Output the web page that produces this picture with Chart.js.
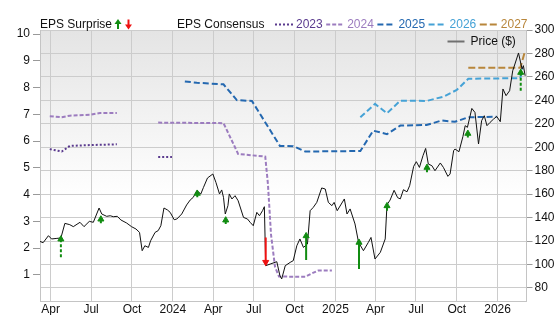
<!DOCTYPE html>
<html>
<head>
<meta charset="utf-8">
<script src="https://cdn.jsdelivr.net/npm/chart.js@4.4.1/dist/chart.umd.min.js"></script>
<style>
  html, body { margin: 0; padding: 0; background: #fff; }
</style>
</head>
<body>
<canvas id="chart" width="556" height="315"></canvas>
<script>
// x axis ticks
var xTickDates = ["2023-04-01", "2023-07-01", "2023-10-01", "2024-01-01", "2024-04-01", "2024-07-01",
  "2024-10-01", "2025-01-01", "2025-04-01", "2025-07-01", "2025-10-01", "2026-01-01"];
var xTickLabels = ["Apr", "Jul", "Oct", "2024", "Apr", "Jul", "Oct", "2025", "Apr", "Jul", "Oct", "2026"];
var epsTicks = [1, 2, 3, 4, 5, 6, 7, 8, 9, 10];
var priceTicks = [80, 100, 120, 140, 160, 180, 200, 220, 240, 260, 280, 300];

// Price ($)
var priceDates = [
  "2023-03-08", "2023-03-15", "2023-03-27", "2023-04-03", "2023-04-15", "2023-04-24", "2023-05-03", "2023-05-14",
  "2023-05-22", "2023-06-06", "2023-06-15", "2023-06-27", "2023-07-06", "2023-07-19", "2023-07-25", "2023-08-05",
  "2023-08-13", "2023-08-20", "2023-08-29", "2023-09-06", "2023-09-19", "2023-09-30", "2023-10-10", "2023-10-18",
  "2023-10-24", "2023-10-30", "2023-11-07", "2023-11-12", "2023-11-22", "2023-11-29", "2023-12-05", "2023-12-12",
  "2023-12-20", "2023-12-26", "2024-01-04", "2024-01-10", "2024-01-21", "2024-02-01", "2024-02-09", "2024-02-16",
  "2024-02-24", "2024-03-04", "2024-03-10", "2024-03-19", "2024-03-31", "2024-04-07", "2024-04-15", "2024-04-20",
  "2024-04-24", "2024-04-28", "2024-05-04", "2024-05-07", "2024-05-13", "2024-05-20", "2024-05-27", "2024-06-08",
  "2024-06-17", "2024-06-23", "2024-06-30", "2024-07-08", "2024-07-14", "2024-07-21", "2024-07-25", "2024-07-28",
  "2024-08-07", "2024-08-22", "2024-08-29", "2024-09-02", "2024-09-10", "2024-09-21", "2024-09-28", "2024-10-06",
  "2024-10-13", "2024-10-21", "2024-10-30", "2024-11-05", "2024-11-12", "2024-11-20", "2024-12-01", "2024-12-09",
  "2024-12-16", "2024-12-24", "2024-12-29", "2025-01-05", "2025-01-21", "2025-01-27", "2025-02-03", "2025-02-14",
  "2025-02-22", "2025-03-05", "2025-03-16", "2025-03-22", "2025-03-31", "2025-04-12", "2025-04-23", "2025-04-27",
  "2025-05-04", "2025-05-13", "2025-05-21", "2025-05-27", "2025-06-03", "2025-06-11", "2025-06-17", "2025-06-26",
  "2025-07-02", "2025-07-09", "2025-07-17", "2025-07-23", "2025-07-29", "2025-08-06", "2025-08-13", "2025-08-25",
  "2025-09-01", "2025-09-11", "2025-09-16", "2025-09-24", "2025-09-27", "2025-10-06", "2025-10-15", "2025-10-20",
  "2025-10-25", "2025-11-04", "2025-11-11", "2025-11-19", "2025-11-26", "2025-12-02", "2025-12-08", "2025-12-15",
  "2025-12-23", "2025-12-30", "2026-01-07", "2026-01-13", "2026-01-20", "2026-01-28", "2026-02-04", "2026-02-09",
  "2026-02-17", "2026-02-25", "2026-02-28", "2026-03-04"];
var priceValues = [
  119.7, 118.6, 124.6, 121.8, 122.3, 122.6, 135.1, 134.0,
  132.3, 136.0, 132.3, 136.8, 136.0, 148.2, 143.1, 141.1,
  141.6, 140.8, 141.1, 138.0, 135.4, 132.3, 130.3, 127.4,
  111.8, 116.0, 114.6, 120.3, 127.4, 128.9, 133.1, 148.2,
  146.5, 144.5, 138.2, 138.8, 143.1, 150.8, 155.0, 157.3,
  163.0, 160.2, 165.8, 173.8, 177.2, 170.0, 160.2, 163.6,
  157.3, 143.1, 150.2, 160.2, 155.9, 158.7, 154.4, 140.2,
  138.8, 136.0, 133.1, 144.5, 141.6, 146.0, 149.3, 99.0,
  100.4, 102.4, 90.5, 87.7, 99.0, 101.8, 103.3, 116.0,
  121.8, 114.6, 117.5, 145.9, 148.7, 153.0, 165.3, 164.4,
  153.0, 150.2, 153.0, 145.9, 155.9, 143.1, 147.4, 134.6,
  118.9, 111.8, 118.9, 123.1, 104.7, 110.4, 121.8, 151.0,
  155.0, 163.3, 157.0, 156.0, 163.8, 162.0, 167.2, 183.7,
  187.7, 182.8, 192.8, 199.0, 185.7, 184.3, 180.0, 186.6,
  182.8, 175.2, 177.2, 197.1, 198.5, 196.2, 209.3, 218.4,
  217.0, 233.1, 229.7, 202.8, 222.7, 226.9, 218.4, 221.2,
  224.1, 226.3, 221.8, 249.7, 244.0, 248.2, 265.3, 271.0,
  280.4, 266.7, 269.6, 261.0];

// EPS consensus by fiscal year (null = gap)
var eps2023Dates = ["2023-03-30", "2023-04-26", "2023-05-14", "2023-06-28", "2023-08-28", "2023-10-15", "2023-11-29", "2023-12-30"];
var eps2023Values = [5.70, 5.61, 5.82, 5.85, 5.88, null, 5.41, 5.41];

var eps2024Dates = ["2023-03-30", "2023-04-26", "2023-05-14", "2023-06-28", "2023-07-21", "2023-08-28", "2023-10-15",
  "2023-11-29", "2024-04-24", "2024-05-27", "2024-07-27", "2024-08-02", "2024-08-09", "2024-08-18", "2024-08-27",
  "2024-10-25", "2024-11-08", "2024-11-24", "2024-12-24"];
var eps2024Values = [6.93, 6.89, 6.95, 6.98, 7.05, 7.05, null, 6.69, 6.67, 5.52, 5.42, 4.4, 2.5, 1.3, 0.94, 0.93, 1.05, 1.17, 1.17];

var eps2025Dates = ["2024-01-28", "2024-02-24", "2024-04-24", "2024-05-24", "2024-06-27", "2024-08-29", "2024-09-28",
  "2024-10-25", "2025-02-26", "2025-03-27", "2025-04-27", "2025-05-27", "2025-07-25", "2025-08-28", "2025-09-27",
  "2025-10-27", "2025-12-30"];
var eps2025Values = [8.23, 8.18, 8.12, 7.53, 7.50, 5.82, 5.81, 5.61, 5.63, 6.39, 6.26, 6.58, 6.60, 6.77, 6.72, 6.89, 6.91];

var eps2026Dates = ["2025-02-26", "2025-03-31", "2025-04-27", "2025-05-27", "2025-07-25", "2025-09-01", "2025-10-01",
  "2025-10-27", "2026-02-21", "2026-02-26"];
var eps2026Values = [6.89, 7.39, 7.04, 7.51, 7.50, 7.66, 7.91, 8.33, 8.35, 8.72];

var eps2027Dates = ["2025-10-27", "2026-02-21", "2026-03-03"];
var eps2027Values = [8.74, 8.74, 9.32];

// EPS surprise arrows, placed on the price scale
var surpriseDates = ["2023-04-24", "2023-07-23", "2024-02-25", "2024-04-29", "2024-07-28", "2024-10-27",
  "2025-02-23", "2025-04-27", "2025-07-26", "2025-10-26", "2026-02-22"];
var surpriseFrom = [106.1, 135.1, 157.3, 134.6, 123.1, 103.9, 96.2, 145.9, 178.6, 208.4, 248.2];
var surpriseTo = [121.6, 138.6, 160.6, 137.8, 102.0, 124.4, 118.8, 150.0, 182.7, 211.7, 263.7];
var surpriseDashed = [true, true, true, true, false, false, false, false, true, true, true];

var consensusYears = ["2023", "2024", "2025", "2026", "2027"];
var consensusColors = ["#5a3a8e", "#9c7cbf", "#2468b0", "#45a2d6", "#b8863b"];
var consensusDash = [[2, 2], [4, 2], [6, 3], [6, 3], [7, 3]];

var FONT = '"Liberation Sans", Arial, sans-serif';
var GREEN = "#118c11";
var RED = "#ee1111";

function day(s) {
  var p = s.split("-");
  return Date.UTC(+p[0], +p[1] - 1, +p[2]) / 86400000;
}

function points(dates, values) {
  return dates.map((d, i) => ({ x: day(d), y: values[i] }));
}

var datasets = [];

// arrows first so they are drawn on top
for (let i = 0; i < surpriseDates.length; i++) {
  let up = surpriseTo[i] > surpriseFrom[i];
  let c = up ? GREEN : RED;
  datasets.push({
    label: "surprise" + i,
    yAxisID: "yPrice",
    data: [
      { x: day(surpriseDates[i]), y: surpriseFrom[i] },
      { x: day(surpriseDates[i]), y: surpriseTo[i] },
    ],
    borderColor: c,
    backgroundColor: c,
    borderWidth: 2,
    borderDash: surpriseDashed[i] ? [3, 2] : [],
    pointStyle: "triangle",
    pointRadius: [0, 3.5],
    pointHoverRadius: 0,
    pointBorderWidth: 1,
    pointRotation: up ? 0 : 180,
    order: 0,
  });
}

datasets.push({
  label: "Price ($)",
  yAxisID: "yPrice",
  data: points(priceDates, priceValues),
  borderColor: "#111",
  borderWidth: 1,
  pointRadius: 0,
  tension: 0,
  order: 1,
});

var epsSeries = [
  [eps2023Dates, eps2023Values],
  [eps2024Dates, eps2024Values],
  [eps2025Dates, eps2025Values],
  [eps2026Dates, eps2026Values],
  [eps2027Dates, eps2027Values],
];
epsSeries.forEach((s, i) => {
  datasets.push({
    label: consensusYears[i],
    yAxisID: "yEps",
    data: points(s[0], s[1]),
    borderColor: consensusColors[i],
    borderWidth: 2,
    borderDash: consensusDash[i],
    pointRadius: 0,
    spanGaps: false,
    tension: 0,
    order: 2,
  });
});

function legendArrow(ctx, x, up, color) {
  ctx.save();
  ctx.strokeStyle = color;
  ctx.fillStyle = color;
  ctx.lineWidth = 2;
  ctx.beginPath();
  if (up) {
    ctx.moveTo(x, 29);
    ctx.lineTo(x, 23);
  } else {
    ctx.moveTo(x, 19.5);
    ctx.lineTo(x, 25);
  }
  ctx.stroke();
  ctx.beginPath();
  if (up) {
    ctx.moveTo(x - 3.5, 24);
    ctx.lineTo(x + 3.5, 24);
    ctx.lineTo(x, 19);
  } else {
    ctx.moveTo(x - 3.5, 24.5);
    ctx.lineTo(x + 3.5, 24.5);
    ctx.lineTo(x, 29.5);
  }
  ctx.closePath();
  ctx.fill();
  ctx.restore();
}

var backdrop = {
  id: "backdrop",
  beforeDatasetsDraw: (chart) => {},
  beforeDraw: (chart) => {
    var ctx = chart.ctx;
    var a = chart.chartArea;
    var g = ctx.createLinearGradient(0, a.top, 0, a.bottom);
    g.addColorStop(0, "#e4e4e4");
    g.addColorStop(0.62, "#ffffff");
    g.addColorStop(1, "#ffffff");
    ctx.save();
    ctx.fillStyle = g;
    ctx.fillRect(a.left, a.top, a.right - a.left, a.bottom - a.top);
    ctx.restore();
  },
  afterDraw: (chart) => {
    var ctx = chart.ctx;
    ctx.save();
    ctx.font = "12px " + FONT;
    ctx.textBaseline = "middle";
    ctx.fillStyle = "#111";
    ctx.fillText("EPS Surprise", 40, 25);
    legendArrow(ctx, 118, true, GREEN);
    legendArrow(ctx, 128.5, false, RED);
    ctx.fillStyle = "#111";
    ctx.fillText("EPS Consensus", 177, 25);

    var x = 275;
    consensusYears.forEach((y, i) => {
      ctx.strokeStyle = consensusColors[i];
      ctx.lineWidth = 2;
      ctx.setLineDash(consensusDash[i]);
      ctx.beginPath();
      ctx.moveTo(x, 24.5);
      ctx.lineTo(x + 18, 24.5);
      ctx.stroke();
      ctx.setLineDash([]);
      ctx.fillStyle = consensusColors[i];
      ctx.fillText(y, x + 21, 25);
      x += 21 + ctx.measureText(y).width + 3.5;
    });

    // price legend inside the plot
    ctx.strokeStyle = "#707070";
    ctx.lineWidth = 2;
    ctx.beginPath();
    ctx.moveTo(447.5, 41.5);
    ctx.lineTo(464.5, 41.5);
    ctx.stroke();
    ctx.fillStyle = "#111";
    ctx.fillText("Price ($)", 470.5, 42);
    ctx.restore();
  },
};

var tickFont = { family: FONT, size: 12 };

new Chart(document.getElementById("chart"), {
  type: "line",
  data: { datasets: datasets },
  plugins: [backdrop],
  options: {
    responsive: false,
    animation: false,
    events: [],
    layout: { padding: { top: 30, left: 0, right: 0, bottom: 0 } },
    plugins: { legend: { display: false }, tooltip: { enabled: false } },
    scales: {
      x: {
        type: "linear",
        position: "bottom",
        min: day("2023-03-08"),
        max: day("2026-03-07"),
        afterBuildTicks: (s) => {
          s.ticks = xTickDates.map((d) => ({ value: day(d) }));
        },
        afterFit: (s) => {
          s.height = 13.3;
        },
        grid: { color: "#cccccc", drawTicks: false },
        border: { color: "#c4c4c4" },
        ticks: {
          autoSkip: false,
          maxRotation: 0,
          padding: 1,
          color: "#111",
          font: tickFont,
          callback: (v, i) => xTickLabels[i],
        },
      },
      yEps: {
        type: "linear",
        position: "left",
        min: 0,
        max: 10.15,
        afterBuildTicks: (s) => {
          s.ticks = epsTicks.map((v) => ({ value: v }));
        },
        afterFit: (s) => {
          s.width = 40;
        },
        grid: { drawOnChartArea: false, tickLength: 7, tickColor: "#999" },
        border: { color: "#c4c4c4" },
        ticks: { padding: 3, color: "#111", font: tickFont },
      },
      yPrice: {
        type: "linear",
        position: "right",
        min: 68.3,
        max: 300,
        afterBuildTicks: (s) => {
          s.ticks = priceTicks.map((v) => ({ value: v }));
        },
        afterFit: (s) => {
          s.width = 29.5;
        },
        grid: { color: "#cccccc", tickLength: 6, tickColor: "#999" },
        border: { color: "#c4c4c4" },
        ticks: { padding: 2, color: "#111", font: tickFont },
      },
    },
  },
});
</script>
</body>
</html>
